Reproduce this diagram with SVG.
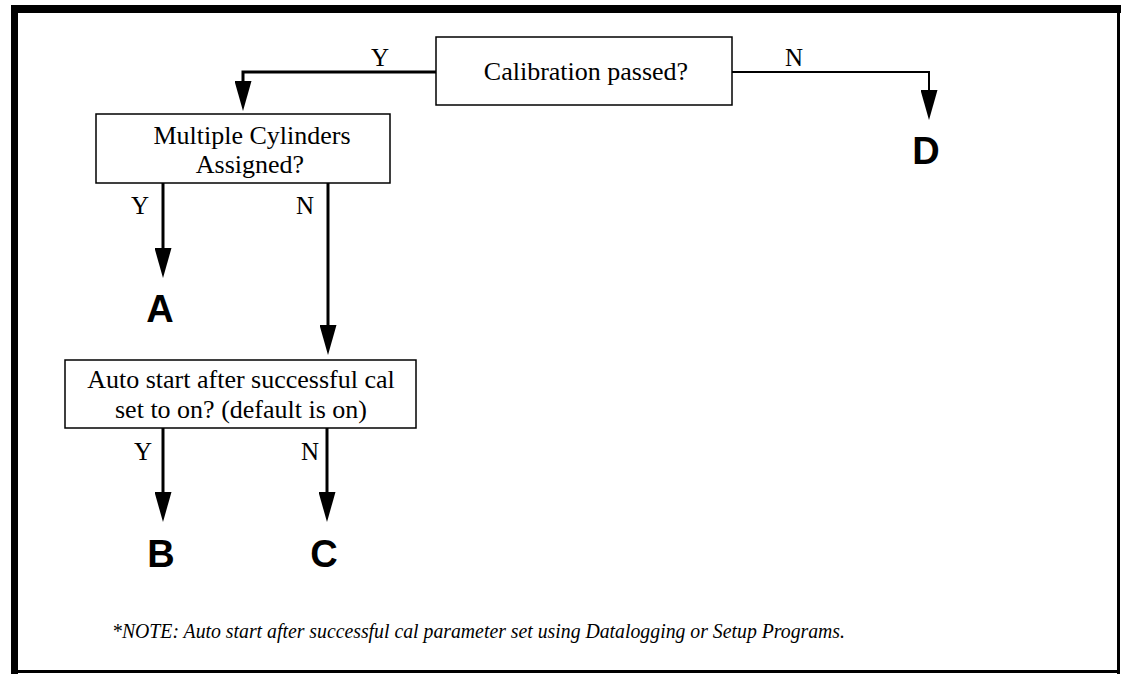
<svg xmlns="http://www.w3.org/2000/svg" width="1121" height="674" viewBox="0 0 1121 674">
<defs>
<style>
.box{fill:#fff;stroke:#000;stroke-width:1.5}
.t{font-family:"Liberation Serif","Times New Roman",serif;font-size:26px;fill:#000;text-anchor:middle}
.lbl{font-family:"Liberation Serif","Times New Roman",serif;font-size:25px;fill:#000;text-anchor:middle}
.big{font-family:"Liberation Sans",Arial,sans-serif;font-size:38px;font-weight:bold;fill:#000;text-anchor:middle}
.note{font-family:"Liberation Serif","Times New Roman",serif;font-size:20px;font-style:italic;fill:#000}
.c{fill:none;stroke:#000;stroke-width:3}
.c2{fill:none;stroke:#000;stroke-width:2}
</style>
<marker id="ah" markerWidth="30" markerHeight="17" refX="10" refY="8.5" orient="auto" markerUnits="userSpaceOnUse" viewBox="0 0 30 17">
<path d="M0,0 L30,8.5 L0,17 Z" fill="#000"/>
</marker>
</defs>
<rect width="1121" height="674" fill="#fff"/>
<g id="frame">
<rect x="12" y="5" width="1109" height="8" fill="#000"/>
<rect x="11" y="5" width="7" height="669" fill="#000"/>
<rect x="1117" y="5" width="3" height="669" fill="#000"/>
<rect x="11" y="670" width="1109" height="3" fill="#000"/>
</g>
<g id="connectors">
<polyline class="c" points="436,72 243,72 243,91" marker-end="url(#ah)"/>
<polyline class="c2" points="732,72 929,72 929,100" marker-end="url(#ah)"/>
<line class="c" x1="163" y1="183" x2="163" y2="258" marker-end="url(#ah)"/>
<line class="c" x1="328" y1="183" x2="328" y2="335" marker-end="url(#ah)"/>
<line class="c" x1="163" y1="428" x2="163" y2="502" marker-end="url(#ah)"/>
<line class="c" x1="327" y1="428" x2="327" y2="502" marker-end="url(#ah)"/>
<text class="lbl" x="380" y="66">Y</text>
<text class="lbl" x="794" y="66">N</text>
<text class="lbl" x="140" y="214">Y</text>
<text class="lbl" x="305" y="214">N</text>
<text class="lbl" x="143" y="460">Y</text>
<text class="lbl" x="310" y="460">N</text>
</g>
<g id="calibration">
<rect class="box" x="436" y="37" width="296" height="68"/>
<text class="t" x="586" y="80">Calibration passed?</text>
</g>
<g id="multiple">
<rect class="box" x="96" y="114" width="294" height="69"/>
<text class="t" x="252" y="144">Multiple Cylinders</text>
<text class="t" x="250" y="173">Assigned?</text>
</g>
<g id="autostart">
<rect class="box" x="65" y="360" width="351" height="68"/>
<text class="t" x="241" y="388">Auto start after successful cal</text>
<text class="t" x="241" y="418">set to on? (default is on)</text>
</g>
<g id="A"><text class="big" x="160" y="322">A</text></g>
<g id="B"><text class="big" x="161" y="567">B</text></g>
<g id="C"><text class="big" x="324" y="567">C</text></g>
<g id="D"><text class="big" x="926" y="164">D</text></g>
<g id="note"><text class="note" x="112" y="638" textLength="733" lengthAdjust="spacingAndGlyphs">*NOTE: Auto start after successful cal parameter set using Datalogging or Setup Programs.</text></g>
</svg>
